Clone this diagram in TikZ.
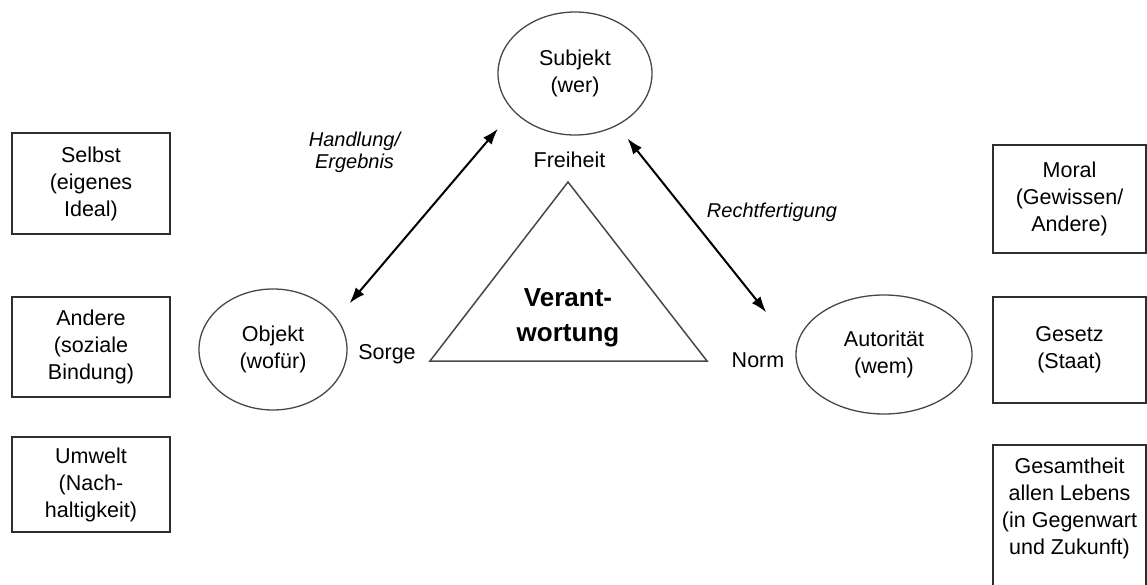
\documentclass[tikz,border=0pt]{standalone}
\usepackage{fontspec}
\setmainfont{Liberation Sans}
\usetikzlibrary{shapes.geometric}
\usetikzlibrary{arrows.meta}
\tikzset{>={Latex[length=16pt,width=11pt]}}
\colorlet{mygrey}{black!72}
\colorlet{boxgrey}{black!82}
\newcommand\mainfont{\fontsize{21.5}{27}\selectfont}
\tikzstyle{oval}=[ellipse,draw=mygrey,line width=1.3pt,inner sep=0pt,outer sep=0pt,align=center,font=\mainfont]
\tikzstyle{field}=[rectangle,draw=boxgrey,line width=1.5pt,inner sep=0pt,outer sep=0pt,align=center,font=\mainfont]
\tikzstyle{word}=[inner sep=0pt,font=\mainfont]
\tikzstyle{note}=[inner sep=0pt,align=center,font=\itshape\fontsize{20}{22}\selectfont]
\tikzstyle{link}=[<->,line width=2pt,black]

\begin{document}
\begin{tikzpicture}[x=1pt,y=-1pt]
  \useasboundingbox (0,0) rectangle (1147,585);

  % TRIANGLE
  \coordinate (TA) at (568,182); % apex
  \coordinate (TL) at (430,361); % left corner
  \coordinate (TR) at (707,361); % right corner
  \draw[mygrey,line width=1.5pt] (TA) -- (TL) -- (TR) -- cycle;
  \node[align=center,inner sep=0pt,font=\bfseries\fontsize{26}{35}\selectfont] (resp) at (568,318) {Verant-\\wortung};
  \node[word] (free) at (569.5,160) {Freiheit};
  \node[word] (care) at (387,354) {Sorge};
  \node[word] (norm) at (758,360) {Norm};

  % POLES
  \node[oval,minimum width=154pt,minimum height=123pt] (subj) at (575,73.5) {Subjekt\\(wer)};
  \node[oval,minimum width=148pt,minimum height=121pt] (obj) at (273,349.5) {Objekt\\(wofür)};
  \node[oval,minimum width=176pt,minimum height=119pt] (auth) at (884,354.5) {Autorität\\(wem)};

  % RELATIONS
  \draw[link,shorten <=20pt,shorten >=24pt] (obj.26) -- (subj.211);
  \draw[link,shorten <=17pt,shorten >=48pt] (subj.309) -- (auth.177);
  \node[note] (act) at (354.5,152) {Handlung/\\Ergebnis};
  \node[note] (just) at (772,212) {Rechtfertigung};

  % LEFT: objects
  \node[field,minimum width=158pt,minimum height=101pt] (self) at (91,183.5) {Selbst\\(eigenes\\Ideal)};
  \node[field,minimum width=158pt,minimum height=100pt] (others) at (91,347) {Andere\\(soziale\\Bindung)};
  \node[field,minimum width=158pt,minimum height=95pt] (env) at (91,484.5) {Umwelt\\(Nach-\\haltigkeit)};

  % RIGHT: authorities
  \node[field,minimum width=153pt,minimum height=108pt] (moral) at (1069.5,199) {Moral\\(Gewissen/\\Andere)};
  \node[field,minimum width=153pt,minimum height=106pt] (law) at (1069.5,350) {Gesetz\\(Staat)};
  \node[field,draw=none,minimum width=153pt,minimum height=126pt,anchor=north] (whole) at (1069.5,445)
    {Gesamtheit\\allen Lebens\\(in Gegenwart\\und Zukunft)};
  \draw[boxgrey,line width=1.5pt] ([yshift=-30pt]whole.south west) -- (whole.north west)
    -- (whole.north east) -- ([yshift=-30pt]whole.south east);
\end{tikzpicture}
\end{document}
